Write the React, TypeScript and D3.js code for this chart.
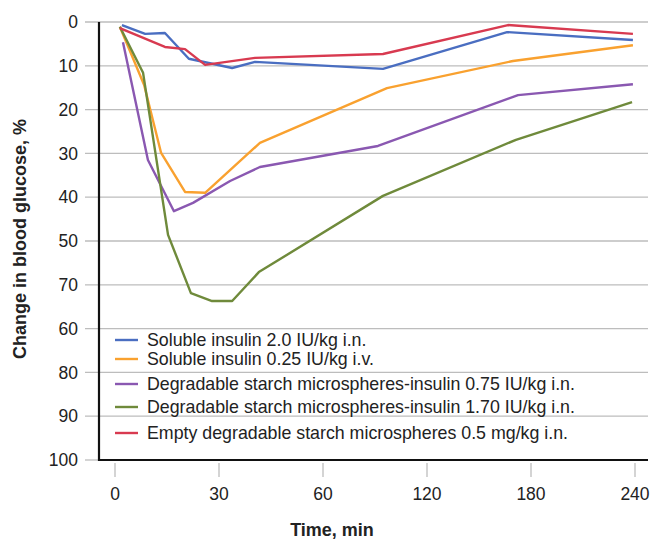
import React, { useEffect, useRef } from 'react';
import * as d3 from 'd3';

// Sampling times (min) and change in blood glucose (%) for each group
const blueTimes = [2, 8.7, 14.4, 21.3, 33.8, 40.4, 94.6, 166.2, 238.8];
const blueValues = [0.7, 2.7, 2.5, 8.4, 10.5, 9.1, 10.7, 2.3, 4.1];

const orangeTimes = [1.4, 8.4, 13.3, 20.2, 26.0, 41.8, 96.9, 169.6, 238.8];
const orangeValues = [1.1, 14.4, 29.9, 38.8, 39.0, 27.6, 15.1, 8.9, 5.3];

const purpleTimes = [2.3, 9.5, 17.0, 22.5, 33.2, 41.8, 91.7, 172.5, 238.8];
const purpleValues = [4.6, 31.5, 43.2, 41.3, 36.3, 33.1, 28.3, 16.7, 14.2];

const greenTimes = [1.4, 8.1, 15.3, 21.9, 28.0, 33.8, 41.5, 94.6, 171.3, 238.3];
const greenValues = [1.1, 11.6, 48.6, 61.9, 63.7, 63.7, 57.1, 39.7, 26.9, 18.3];

const redTimes = [1.4, 14.4, 20.2, 26.0, 40.4, 94.6, 166.7, 238.8];
const redValues = [1.4, 5.7, 6.2, 9.8, 8.2, 7.3, 0.7, 2.7];

const seriesNames = [
  'Soluble insulin 2.0 IU/kg i.n.',
  'Soluble insulin 0.25 IU/kg i.v.',
  'Degradable starch microspheres-insulin 0.75 IU/kg i.n.',
  'Degradable starch microspheres-insulin 1.70 IU/kg i.n.',
  'Empty degradable starch microspheres 0.5 mg/kg i.n.',
];
const seriesColors = ['#4a6ec1', '#f9a12f', '#8a58b1', '#6f8a3b', '#d83a50'];

const xTickValues = [0, 30, 60, 120, 180, 240];
const yTickValues = [0, 10, 20, 30, 40, 50, 60, 70, 80, 90, 100];
// labels as printed in the original figure (60 and 70 swapped)
const yTickLabels = ['0', '10', '20', '30', '40', '50', '70', '60', '80', '90', '100'];

const W = 650;
const H = 541;

const App: React.FC = () => {
  const svgRef = useRef<SVGSVGElement>(null);

  useEffect(() => {
    if (!svgRef.current) return;
    const svg = d3.select(svgRef.current);
    svg.selectAll('*').remove();

    const font = '"Liberation Sans", Arial, Helvetica, sans-serif';

    // x axis ticks are evenly spaced although the minutes are not
    const xScale = d3.scaleLinear()
      .domain(xTickValues)
      .range([115, 219, 323, 427, 531, 635]);

    const yScale = d3.scaleLinear().domain([0, 100]).range([22, 460]);

    const series = [
      { times: blueTimes, values: blueValues },
      { times: orangeTimes, values: orangeValues },
      { times: purpleTimes, values: purpleValues },
      { times: greenTimes, values: greenValues },
      { times: redTimes, values: redValues },
    ];

    // Gridlines
    svg.append('g')
      .selectAll('line')
      .data(yTickValues.slice(0, -1))
      .enter()
      .append('line')
      .attr('x1', 85)
      .attr('x2', 648)
      .attr('y1', d => yScale(d))
      .attr('y2', d => yScale(d))
      .attr('stroke', '#bdbdbd')
      .attr('stroke-width', 1.3);

    // little stub left of the axis at 100
    svg.append('line')
      .attr('x1', 85).attr('x2', 99)
      .attr('y1', yScale(100)).attr('y2', yScale(100))
      .attr('stroke', '#bdbdbd').attr('stroke-width', 1.3);

    // Y tick labels
    svg.append('g')
      .selectAll('text')
      .data(yTickValues)
      .enter()
      .append('text')
      .attr('x', 78)
      .attr('y', d => yScale(d))
      .attr('dy', '0.35em')
      .attr('text-anchor', 'end')
      .style('font-family', font)
      .style('font-size', '17.5px')
      .style('fill', '#222')
      .text((d, i) => yTickLabels[i]);

    // X ticks
    svg.append('g')
      .selectAll('line')
      .data(xTickValues)
      .enter()
      .append('line')
      .attr('x1', d => xScale(d))
      .attr('x2', d => xScale(d))
      .attr('y1', 463)
      .attr('y2', 477)
      .attr('stroke', '#bdbdbd')
      .attr('stroke-width', 1.3);

    svg.append('g')
      .selectAll('text')
      .data(xTickValues)
      .enter()
      .append('text')
      .attr('x', d => xScale(d))
      .attr('y', 494)
      .attr('dy', '0.35em')
      .attr('text-anchor', 'middle')
      .style('font-family', font)
      .style('font-size', '17.5px')
      .style('fill', '#222')
      .text(d => String(d));

    // Axis lines
    svg.append('line')
      .attr('x1', 99).attr('x2', 99)
      .attr('y1', yScale(0)).attr('y2', yScale(100) + 1)
      .attr('stroke', '#111').attr('stroke-width', 2.2);
    svg.append('line')
      .attr('x1', 98).attr('x2', 648)
      .attr('y1', yScale(100)).attr('y2', yScale(100))
      .attr('stroke', '#111').attr('stroke-width', 2.2);

    // Lines
    const line = d3.line<[number, number]>()
      .x(d => xScale(d[0]))
      .y(d => yScale(d[1]));

    series.forEach((s, i) => {
      const pts = s.times.map((t, k) => [t, s.values[k]] as [number, number]);
      svg.append('path')
        .datum(pts)
        .attr('d', line)
        .attr('fill', 'none')
        .attr('stroke', seriesColors[i])
        .attr('stroke-width', 2.4)
        .attr('stroke-linejoin', 'round');
    });

    // Legend
    const legendRows = [340, 359, 384, 407, 433];
    const legend = svg.append('g');
    seriesNames.forEach((name, i) => {
      const row = legend.append('g')
        .attr('transform', `translate(0, ${legendRows[i]})`);
      row.append('line')
        .attr('x1', 115).attr('x2', 138)
        .attr('y1', 0).attr('y2', 0)
        .attr('stroke', seriesColors[i])
        .attr('stroke-width', 2.4);
      row.append('text')
        .attr('x', 147)
        .attr('y', 0)
        .attr('dy', '0.35em')
        .style('font-family', font)
        .style('font-size', '17.8px')
        .style('fill', '#222')
        .text(name);
    });

    // Axis titles
    svg.append('text')
      .attr('transform', `translate(20, 239) rotate(-90)`)
      .attr('text-anchor', 'middle')
      .attr('dy', '0.35em')
      .style('font-family', font)
      .style('font-size', '18px')
      .style('font-weight', 'bold')
      .style('fill', '#222')
      .text('Change in blood glucose, %');

    svg.append('text')
      .attr('x', 332)
      .attr('y', 530)
      .attr('dy', '0.35em')
      .attr('text-anchor', 'middle')
      .style('font-family', font)
      .style('font-size', '18px')
      .style('font-weight', 'bold')
      .style('fill', '#222')
      .text('Time, min');
  }, []);

  return (
    <svg
      ref={svgRef}
      width={W}
      height={H}
      style={{ position: 'absolute', left: 0, top: 0, background: '#fff' }}
    />
  );
};

export default App;
